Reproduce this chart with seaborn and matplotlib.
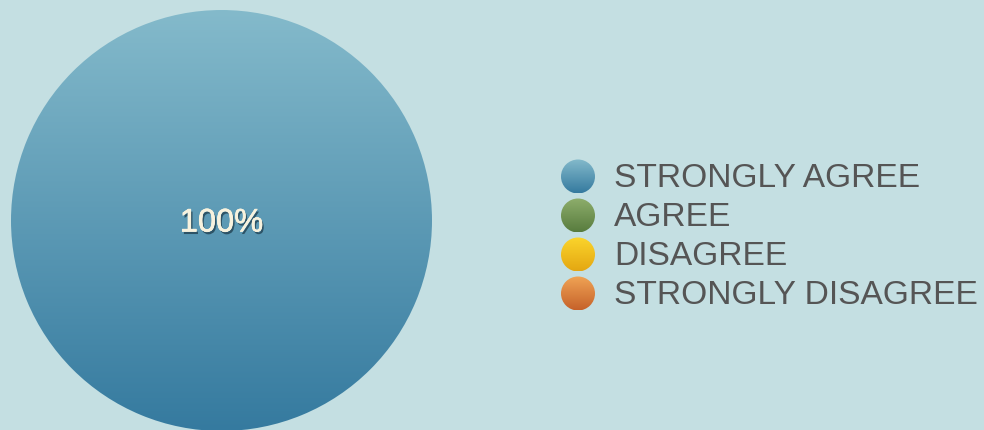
import numpy as np
import matplotlib
matplotlib.use("Agg")
import matplotlib.pyplot as plt
import matplotlib.patheffects as pe
from matplotlib.colors import LinearSegmentedColormap
from matplotlib.patches import Circle
import seaborn as sns

# Survey responses
categories = ["STRONGLY AGREE", "AGREE", "DISAGREE", "STRONGLY DISAGREE"]
percentages = [100, 0, 0, 0]
label_texts = ["100%", "", "", ""]

# top / bottom shade of each category's gradient fill
grad_top = ["#84bacb", "#8eae6c", "#fbd52c", "#f0a455"]
grad_bottom = ["#357a9f", "#587c3e", "#e4a712", "#c6622a"]

BG = "#c4dfe2"

sns.set_theme(style="white", rc={"axes.facecolor": BG, "figure.facecolor": BG})
plt.rcParams["font.family"] = ["Liberation Sans", "DejaVu Sans"]

W, H = 984, 430
fig = plt.figure(figsize=(W / 100, H / 100), dpi=100)
fig.patch.set_facecolor(BG)

ramp = np.linspace(0, 1, 256).reshape(-1, 1)


def gradient_cmap(i):
    return LinearSegmentedColormap.from_list(f"g{i}", [grad_top[i], grad_bottom[i]])


# ---- pie ----
cx, cy, r = 221.5, 220.5, 210.5
pie_ax = fig.add_axes([(cx - r) / W, (H - cy - r) / H, 2 * r / W, 2 * r / H])
pie_ax.set_facecolor("none")
wedges, _ = pie_ax.pie(percentages, radius=1, startangle=90, counterclock=False,
                       wedgeprops=dict(linewidth=0))
for i, w in enumerate(wedges):
    if percentages[i] <= 0:
        w.set_visible(False)
        continue
    w.set_facecolor("none")
    img = pie_ax.imshow(ramp, cmap=gradient_cmap(i), aspect="auto",
                        extent=[-1, 1, -1, 1], origin="upper", zorder=1)
    img.set_clip_path(w)
pie_ax.set_xlim(-1, 1)
pie_ax.set_ylim(-1, 1)
pie_ax.set_aspect("equal")
pie_ax.axis("off")

total = sum(percentages)
for i, w in enumerate(wedges):
    if percentages[i] <= 0:
        continue
    if percentages[i] == total:
        tx, ty = 0.0, -0.012
    else:
        ang = np.deg2rad((w.theta1 + w.theta2) / 2)
        tx, ty = 0.6 * np.cos(ang), 0.6 * np.sin(ang)
    pie_ax.text(tx, ty, label_texts[i], ha="center", va="center",
                fontsize=23.5, color="#f7f2de", zorder=5,
                path_effects=[pe.withSimplePatchShadow(offset=(1.2, -1.8),
                                                        shadow_rgbFace="#1e3c4c",
                                                        alpha=0.75),
                              pe.Stroke(linewidth=0.4, foreground="#f7f2de"),
                              pe.Normal()])

# ---- legend ----
leg_ax = fig.add_axes([0, 0, 1, 1])
leg_ax.set_facecolor("none")
leg_ax.set_xlim(0, W)
leg_ax.set_ylim(H, 0)
leg_ax.axis("off")

mx, my0, dy, mr = 578, 176.5, 39.0, 17
for i, cat in enumerate(categories):
    y = my0 + i * dy
    circ = Circle((mx, y), mr, facecolor="none", edgecolor="none")
    leg_ax.add_patch(circ)
    im = leg_ax.imshow(ramp, cmap=gradient_cmap(i), aspect="auto",
                       extent=[mx - mr, mx + mr, y + mr, y - mr], origin="upper")
    im.set_clip_path(circ)
    leg_ax.text(614, y + 2, cat, ha="left", va="center", fontsize=24.1,
                color="#555555")

leg_ax.set_xlim(0, W)
leg_ax.set_ylim(H, 0)

fig.savefig("out.png", dpi=100, facecolor=BG)
